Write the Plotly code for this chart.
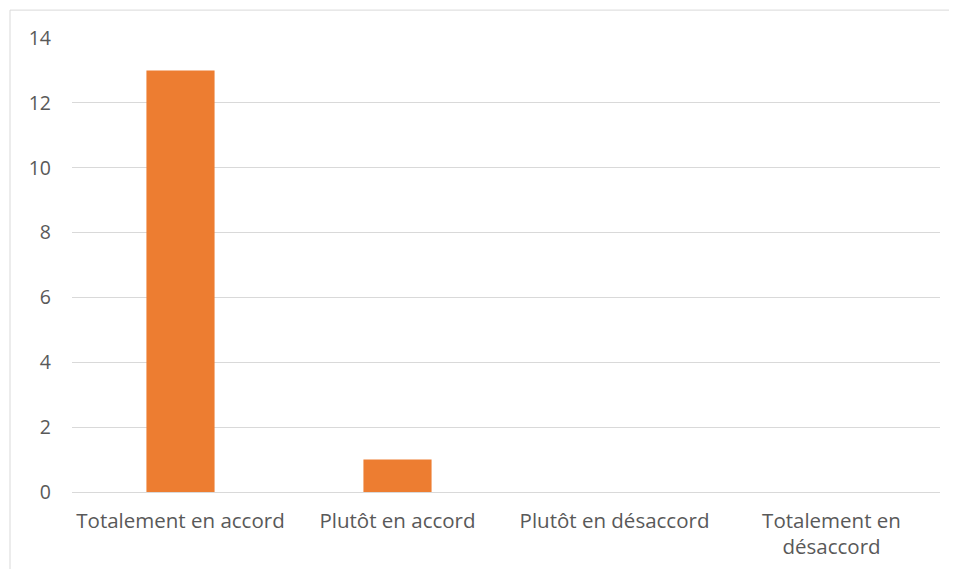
import plotly.graph_objects as go

categories = ["Totalement en accord", "Plutôt en accord", "Plutôt en désaccord", "Totalement en<br>désaccord"]
values = [13, 1, 0, 0]
y_ticks = [0, 2, 4, 6, 8, 10, 12, 14]

# browser body margin is 8px, so the figure is placed at (8, 8) in the window
W, H = 941, 561
L, R, T, B = 64, 9, 30, 75
pw, ph = W - L - R, H - T - B

fig = go.Figure(go.Bar(x=categories, y=values, marker_color="#ED7D31", marker_line_width=0))

fig.update_layout(
    width=W, height=H,
    margin=dict(l=L, r=R, t=T, b=B),
    paper_bgcolor="white", plot_bgcolor="white",
    bargap=0.686,
    showlegend=False,
    font=dict(family="Open Sans, sans-serif", size=20, color="#595959"),
    xaxis=dict(showgrid=False, showline=True, linecolor="#d9d9d9", linewidth=1,
               ticks="", ticklabelstandoff=10, tickfont=dict(size=20.5, color="#595959")),
    yaxis=dict(range=[0, 14], tickvals=y_ticks, showgrid=True, gridcolor="#d9d9d9",
               gridwidth=1, zeroline=False, showline=False, ticks="",
               ticklabelstandoff=20, tickfont=dict(size=19.5, color="#595959")),
    shapes=[dict(type="rect", xref="paper", yref="paper",
                 x0=(2 - L) / pw, x1=(W + 20 - L) / pw,
                 y0=-(B + 20) / ph, y1=1 + (T - 2) / ph,
                 line=dict(color="#d9d9d9", width=1), fillcolor="rgba(0,0,0,0)", layer="below")],
)

fig.write_html("out.html")
